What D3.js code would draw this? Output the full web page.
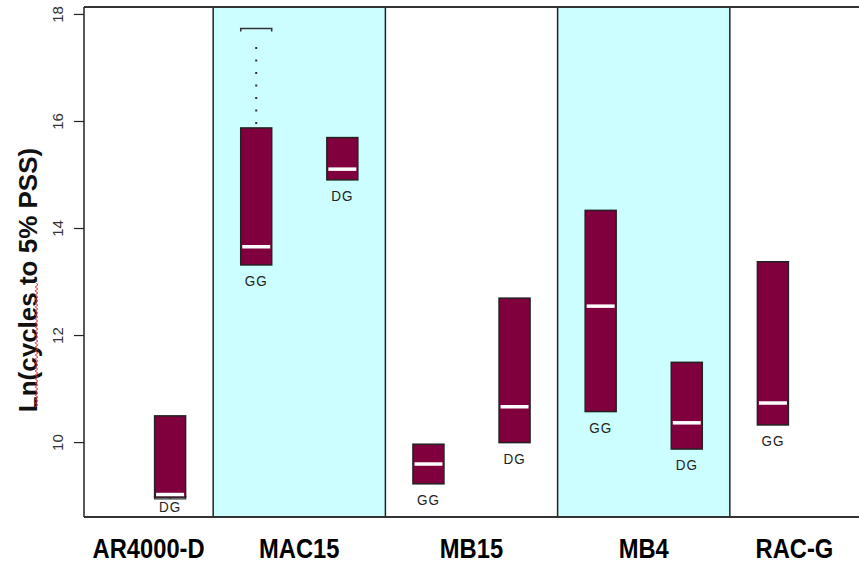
<!DOCTYPE html>
<html>
<head>
<meta charset="utf-8">
<script src="https://cdn.jsdelivr.net/npm/d3@7/dist/d3.min.js"></script>
<style>
  html, body { margin: 0; padding: 0; background: #fff; }
  svg { display: block; font-family: "Liberation Sans", Arial, sans-serif; }
</style>
</head>
<body>
<svg id="chart" width="859" height="569"></svg>
<script>
// Groups along the x axis: name, start/end slot, shaded or not
const groups = ["AR4000-D", "MAC15", "MB15", "MB4", "RAC-G"];
const groupEdges = [0, 1.5, 3.5, 5.5, 7.5, 9];
const groupShaded = [false, true, false, true, false];

// One box per slot: slot, gradation label, whisker low, q1, median, q3, whisker high
const boxSlot   = [1, 2, 3, 4, 5, 6, 7, 8];
const boxLabel  = ["DG", "GG", "DG", "GG", "DG", "GG", "DG", "GG"];
const boxLow    = [8.94, 13.31, 14.90, 9.22, 9.99, 10.57, 9.87, 10.32];
const boxQ1     = [8.97, 13.31, 14.90, 9.22, 9.99, 10.57, 9.87, 10.32];
const boxMedian = [9.02, 13.65, 15.10, 9.59, 10.66, 12.54, 10.36, 10.73];
const boxQ3     = [10.49, 15.87, 15.69, 9.96, 12.69, 14.33, 11.49, 13.37];
const boxHigh   = [10.49, 17.73, 15.69, 9.96, 12.69, 14.33, 11.49, 13.37];

const yTicks = [10, 12, 14, 16, 18];
const yTitle = "Ln(cycles to 5% PSS)";

const svg = d3.select("#chart");
const plotLeft = 84, plotRight = 859, plotTop = 7, plotBottom = 517;

const x = d3.scaleLinear().domain([0, 9]).range([plotLeft, plotRight]);
const y = d3.scaleLinear().domain([8.6, 18.13]).range([plotBottom, plotTop]);
const boxW = 31;

// shaded group bands
svg.append("g").selectAll("rect")
  .data(groups.map((g, i) => ({ g, i })).filter(d => groupShaded[d.i]))
  .join("rect")
  .attr("x", d => x(groupEdges[d.i]))
  .attr("y", plotTop)
  .attr("width", d => x(groupEdges[d.i + 1]) - x(groupEdges[d.i]))
  .attr("height", plotBottom - plotTop)
  .attr("fill", "#ccfeff");

// group separators
svg.append("g").selectAll("line")
  .data(groupEdges.slice(1, -1))
  .join("line")
  .attr("x1", d => x(d)).attr("x2", d => x(d))
  .attr("y1", plotTop).attr("y2", plotBottom)
  .attr("stroke", "#222").attr("stroke-width", 1.5);

// frame: top and bottom lines
svg.append("line").attr("x1", plotLeft).attr("x2", plotRight).attr("y1", plotTop).attr("y2", plotTop)
  .attr("stroke", "#333").attr("stroke-width", 2);
svg.append("line").attr("x1", plotLeft).attr("x2", plotRight).attr("y1", plotBottom).attr("y2", plotBottom)
  .attr("stroke", "#333").attr("stroke-width", 2);

// y axis
const yAxis = svg.append("g")
  .attr("transform", `translate(${plotLeft},0)`)
  .call(d3.axisLeft(y).tickValues(yTicks).tickSize(10).tickSizeOuter(0).tickPadding(0));
yAxis.select(".domain").attr("stroke", "#222").attr("stroke-width", 1.5)
  .attr("d", `M0,${plotTop}V${plotBottom}`);
yAxis.selectAll(".tick line").attr("stroke", "#222").attr("stroke-width", 1.2);
yAxis.selectAll(".tick text")
  .attr("x", null).attr("dy", null)
  .attr("transform", "translate(-21,0) rotate(-90)")
  .attr("text-anchor", "middle")
  .attr("font-size", 15)
  .attr("font-family", "Liberation Sans, Arial, sans-serif")
  .attr("fill", "#333");

// axis title
svg.append("text")
  .attr("transform", `translate(37,${(plotTop + plotBottom) / 2 + 18}) rotate(-90)`)
  .attr("text-anchor", "middle")
  .attr("font-size", 26)
  .attr("font-weight", "bold")
  .attr("fill", "#111")
  .text(yTitle);

// spell-check squiggle under the first word of the title
{
  const x0 = 36.5, yStart = 283, yEnd = 406;
  let d = `M${x0},${yStart}`;
  for (let yy = yStart, k = 0; yy < yEnd; yy += 2, k++) {
    d += `L${x0 + (k % 2 ? -1.3 : 1.3)},${yy + 2}`;
  }
  svg.append("path").attr("d", d).attr("fill", "none")
    .attr("stroke", "#ff2020").attr("stroke-width", 1);
}

// boxes
const boxes = boxSlot.map((s, i) => ({
  s, label: boxLabel[i], lo: boxLow[i], q1: boxQ1[i], med: boxMedian[i], q3: boxQ3[i], hi: boxHigh[i]
}));
const bg = svg.append("g").selectAll("g").data(boxes).join("g");

// dotted upper whisker + caps
bg.filter(d => d.hi > d.q3).append("line")
  .attr("x1", d => x(d.s)).attr("x2", d => x(d.s))
  .attr("y1", d => y(d.q3) - 4).attr("y2", d => y(d.hi) + 8)
  .attr("stroke", "#333").attr("stroke-width", 2)
  .attr("stroke-dasharray", "2,10.5");
bg.filter(d => d.hi > d.q3).append("path")
  .attr("d", d => `M${x(d.s) - boxW / 2},${y(d.hi) + 3}V${y(d.hi)}H${x(d.s) + boxW / 2}V${y(d.hi) + 3}`)
  .attr("fill", "none").attr("stroke", "#333").attr("stroke-width", 1.5);
bg.filter(d => d.lo < d.q1).append("path")
  .attr("d", d => `M${x(d.s) - boxW / 2},${y(d.lo) - 3}V${y(d.lo)}H${x(d.s) + boxW / 2}V${y(d.lo) - 3}M${x(d.s)},${y(d.lo)}V${y(d.lo) - 3}`)
  .attr("fill", "none").attr("stroke", "#333").attr("stroke-width", 1.3);

bg.append("rect")
  .attr("x", d => x(d.s) - boxW / 2)
  .attr("width", boxW)
  .attr("y", d => y(d.q3))
  .attr("height", d => y(d.q1) - y(d.q3))
  .attr("fill", "#7f003d")
  .attr("stroke", "#222")
  .attr("stroke-width", 1.5);

bg.append("line")
  .attr("x1", d => x(d.s) - boxW / 2 + 1.5)
  .attr("x2", d => x(d.s) + boxW / 2 - 1.5)
  .attr("y1", d => y(d.med)).attr("y2", d => y(d.med))
  .attr("stroke", "#fff").attr("stroke-width", 3.5);

// gradation labels below each box, kept inside the plot frame
bg.append("text")
  .attr("transform", d => `translate(${x(d.s)},${Math.min(y(Math.min(d.q1, d.lo)) + 21, plotBottom - 5)}) scale(1,1.15)`)
  .attr("text-anchor", "middle")
  .attr("font-size", 13.5)
  .attr("letter-spacing", 1)
  .attr("fill", "#222")
  .text(d => d.label);

// group names under the axis
svg.append("g").selectAll("text")
  .data(groups.map((g, i) => ({ g, i })))
  .join("text")
  .attr("transform", d => `translate(${x((groupEdges[d.i] + groupEdges[d.i + 1]) / 2)},558) scale(0.95,1.08)`)
  .attr("text-anchor", "middle")
  .attr("font-size", 25)
  .attr("font-weight", "bold")
  .attr("fill", "#000")
  .text(d => d.g);
</script>
</body>
</html>
